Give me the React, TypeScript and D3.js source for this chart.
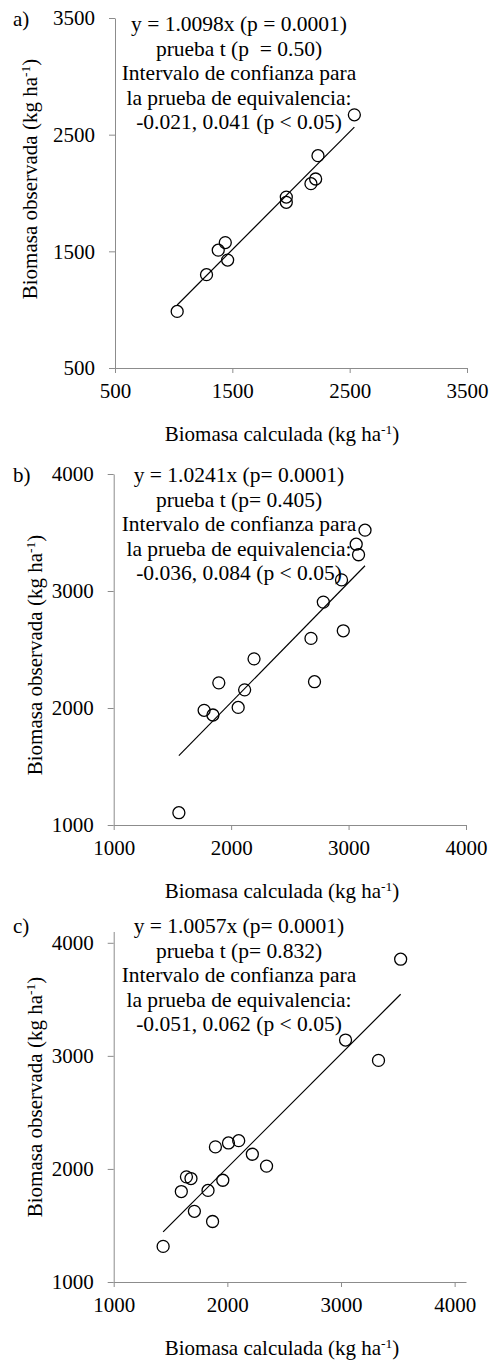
import React, { useEffect, useRef } from 'react';
import * as d3 from 'd3';

// panel a
const calcA: number[] = [1030, 1280, 1380, 1440, 1460, 1960, 1960, 2170, 2210, 2230, 2540];
const obsA: number[] = [985, 1300, 1510, 1575, 1425, 1965, 1920, 2080, 2120, 2320, 2670];
const slopeA: number = 1.0098;
const ticksA: number[] = [500, 1500, 2500, 3500];
const notesA: string[] = [
  'y = 1.0098x (p = 0.0001)',
  'prueba t (p  = 0.50)',
  'Intervalo de confianza para',
  'la prueba de equivalencia:',
  '-0.021, 0.041 (p < 0.05)',
];

// panel b
const calcB: number[] = [1555, 1770, 1845, 1895, 2060, 2115, 2195, 2680, 2710, 2785, 2955, 2940, 3140, 3065, 3085];
const obsB: number[] = [1105, 1980, 1940, 2215, 2005, 2155, 2420, 2595, 2225, 2905, 2660, 3095, 3520, 3400, 3310];
const slopeB: number = 1.0241;
const ticksB: number[] = [1000, 2000, 3000, 4000];
const notesB: string[] = [
  'y = 1.0241x (p= 0.0001)',
  'prueba t (p= 0.405)',
  'Intervalo de confianza para',
  'la prueba de equivalencia:',
  '-0.036, 0.084 (p < 0.05)',
];

// panel c
const calcC: number[] = [1435, 1595, 1640, 1680, 1710, 1830, 1870, 1895, 1960, 2010, 2100, 2220, 2345, 3040, 3330, 3525];
const obsC: number[] = [1315, 1800, 1930, 1915, 1625, 1810, 1535, 2195, 1900, 2230, 2250, 2130, 2025, 3140, 2960, 3855];
const slopeC: number = 1.0057;
const ticksC: number[] = [1000, 2000, 3000, 4000];
const notesC: string[] = [
  'y = 1.0057x (p= 0.0001)',
  'prueba t (p= 0.832)',
  'Intervalo de confianza para',
  'la prueba de equivalencia:',
  '-0.051, 0.062 (p < 0.05)',
];

const width: number = 493;
const height: number = 1364;
const font: string = 'Liberation Serif';
const axisColor: string = '#8c8c8c';

const panels: any[] = [
  { label: 'a)', calc: calcA, obs: obsA, slope: slopeA, ticks: ticksA, notes: notesA,
    xDom: [500, 3500], yDom: [500, 3500], x0: 115, x1: 467, yTop: 18, yBot: 368,
    labelY: 26, noteY: 31, yTitleX: 37, yTitleC: 179 },
  { label: 'b)', calc: calcB, obs: obsB, slope: slopeB, ticks: ticksB, notes: notesB,
    xDom: [1000, 4000], yDom: [1000, 4000], x0: 113.7, x1: 466, yTop: 474, yBot: 825,
    labelY: 482, noteY: 482, yTitleX: 42, yTitleC: 655 },
  { label: 'c)', calc: calcC, obs: obsC, slope: slopeC, ticks: ticksC, notes: notesC,
    xDom: [1000, 4100], yDom: [1000, 4100], x0: 113.7, x1: 466, yTop: 931.5, yBot: 1282,
    labelY: 933, noteY: 933, yTitleX: 42, yTitleC: 1097 },
];

// writes "... (kg ha-1)" with a raised -1
const titleText = (t: any, base: string) => {
  t.append('tspan').text(base + ' (kg ha');
  t.append('tspan').attr('dy', -7).style('font-size', '13.5px').text('-1');
  t.append('tspan').attr('dy', 7).text(')');
};

const styleAxis = (ax: any) => {
  ax.attr('font-family', null).attr('font-size', null);
  ax.select('.domain').attr('stroke', axisColor);
  ax.selectAll('.tick line').attr('stroke', axisColor);
  ax.selectAll('.tick text')
    .style('font-family', font)
    .style('font-size', '21px')
    .attr('fill', '#000');
};

const drawPanel = (svg: any, p: any) => {
  var xScale: any = d3.scaleLinear().domain(p.xDom).range([p.x0, p.x1]);
  var yScale: any = d3.scaleLinear().domain(p.yDom).range([p.yBot, p.yTop]);

  var g: any = svg.append('g').attr('fill', '#000');

  // y axis
  var yAxis: any = g.append('g')
    .attr('transform', `translate(${p.x0},0)`)
    .call(d3.axisLeft(yScale).tickValues(p.ticks).tickFormat(d3.format('d'))
      .tickSize(6).tickPadding(14).tickSizeOuter(0));
  styleAxis(yAxis);

  // x axis
  var xAxis: any = g.append('g')
    .attr('transform', `translate(0,${p.yBot})`)
    .call(d3.axisBottom(xScale).tickValues(p.ticks).tickFormat(d3.format('d'))
      .tickSize(5).tickPadding(10).tickSizeOuter(0));
  styleAxis(xAxis);

  // fitted line through origin, over the range of the data
  var xMin: number = d3.min(p.calc) as any;
  var xMax: number = d3.max(p.calc) as any;
  var line: any = d3.line().x((d: any) => xScale(d[0])).y((d: any) => yScale(d[1]));
  g.append('path')
    .attr('d', line([[xMin, p.slope * xMin], [xMax, p.slope * xMax]]))
    .attr('stroke', '#000')
    .attr('stroke-width', 1.2)
    .attr('fill', 'none');

  // points
  g.selectAll('.pt')
    .data(p.calc)
    .enter()
    .append('circle')
    .attr('class', 'pt')
    .attr('cx', (d: any) => xScale(d))
    .attr('cy', (d: any, i: number) => yScale(p.obs[i]))
    .attr('r', 6)
    .attr('fill', 'none')
    .attr('stroke', '#000')
    .attr('stroke-width', 1.3);

  // annotation block
  g.selectAll('.note')
    .data(p.notes)
    .enter()
    .append('text')
    .attr('class', 'note')
    .attr('x', 239)
    .attr('y', (d: any, i: number) => p.noteY + i * 24.6)
    .attr('text-anchor', 'middle')
    .style('font-family', font)
    .style('font-size', '21.5px')
    .style('white-space', 'pre')
    .text((d: any) => d);

  // panel letter
  g.append('text')
    .attr('x', 13)
    .attr('y', p.labelY)
    .style('font-family', font)
    .style('font-size', '21px')
    .text(p.label);

  // axis titles
  var xt: any = g.append('text')
    .attr('x', 282)
    .attr('y', p.yBot + 73)
    .attr('text-anchor', 'middle')
    .style('font-family', font)
    .style('font-size', '21px');
  titleText(xt, 'Biomasa calculada');

  var yt: any = g.append('text')
    .attr('transform', `translate(${p.yTitleX},${p.yTitleC}) rotate(-90)`)
    .attr('text-anchor', 'middle')
    .style('font-family', font)
    .style('font-size', '21px');
  titleText(yt, 'Biomasa observada');
};

export default function App() {
  const ref = useRef<SVGSVGElement>(null);

  useEffect(() => {
    var svg: any = d3.select(ref.current);
    svg.selectAll('*').remove();
    panels.forEach((p: any) => drawPanel(svg, p));
  }, []);

  return (
    <svg
      ref={ref}
      width={width}
      height={height}
      style={{ position: 'absolute', left: 0, top: 0, background: '#fff' }}
    />
  );
}
